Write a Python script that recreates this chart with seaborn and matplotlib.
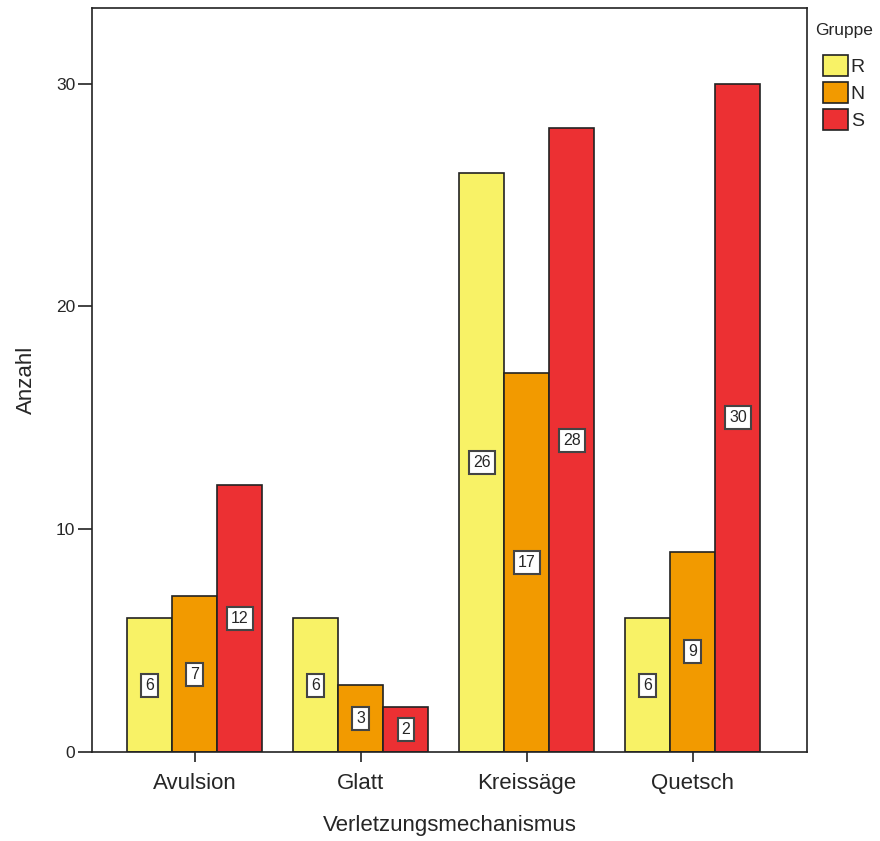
import seaborn as sns
import matplotlib.pyplot as plt
import pandas as pd

categories = ["Avulsion", "Glatt", "Kreissäge", "Quetsch"]
groups = ["R", "N", "S"]
values_r = [6, 6, 26, 6]
values_n = [7, 3, 17, 9]
values_s = [12, 2, 28, 30]
colors = ["#F8F266", "#F29A00", "#EC3033"]

rows = []
for g, vals in zip(groups, [values_r, values_n, values_s]):
    for c, v in zip(categories, vals):
        rows.append({"Verletzungsmechanismus": c, "Gruppe": g, "Anzahl": v})
data = pd.DataFrame(rows)

sns.set_style("white")
plt.rcParams["font.family"] = ["Liberation Sans", "DejaVu Sans"]

fig = plt.figure(figsize=(8.8, 8.41), dpi=100)
ax = fig.add_axes([0.1045, 0.1058, 0.8125, 0.8847])

sns.barplot(data=data, x="Verletzungsmechanismus", y="Anzahl", hue="Gruppe",
            hue_order=groups, palette=colors, width=0.813, saturation=1,
            edgecolor="#222222", linewidth=1.2, ax=ax)

# white value boxes in the middle of each bar
for cont in ax.containers:
    for bar in cont:
        h = bar.get_height()
        ax.text(bar.get_x() + bar.get_width() / 2, h / 2, f"{int(h)}",
                ha="center", va="center", fontsize=11.5,
                bbox=dict(boxstyle="square,pad=0.25", fc="white", ec="#444444", lw=1.5))

ax.set_xlim(-0.62, 3.687)
ax.set_ylim(0, 33.4)
ax.set_yticks([0, 10, 20, 30])
for s in ax.spines.values():
    s.set_color("#222222")
    s.set_linewidth(1.2)
ax.tick_params(axis="y", left=True, direction="out", length=10, width=1.2,
               labelsize=12.5, color="#222222", pad=2)
ax.tick_params(axis="x", bottom=True, direction="out", length=7, width=1.2,
               labelsize=16, color="#222222", pad=8)
ax.set_xlabel("Verletzungsmechanismus", fontsize=16, labelpad=15)
ax.set_ylabel("Anzahl", fontsize=16, labelpad=14)

leg = ax.legend(title="Gruppe", loc="upper left", bbox_to_anchor=(1.0, 0.99),
                frameon=False, fontsize=14, title_fontsize=12.5,
                handlelength=1.3, handleheight=1.3, handletextpad=0.15,
                labelspacing=0.3, borderaxespad=0.0)
leg._legend_box.align = "center"
leg._legend_box.sep = 12

fig.savefig("out.png", dpi=100)
